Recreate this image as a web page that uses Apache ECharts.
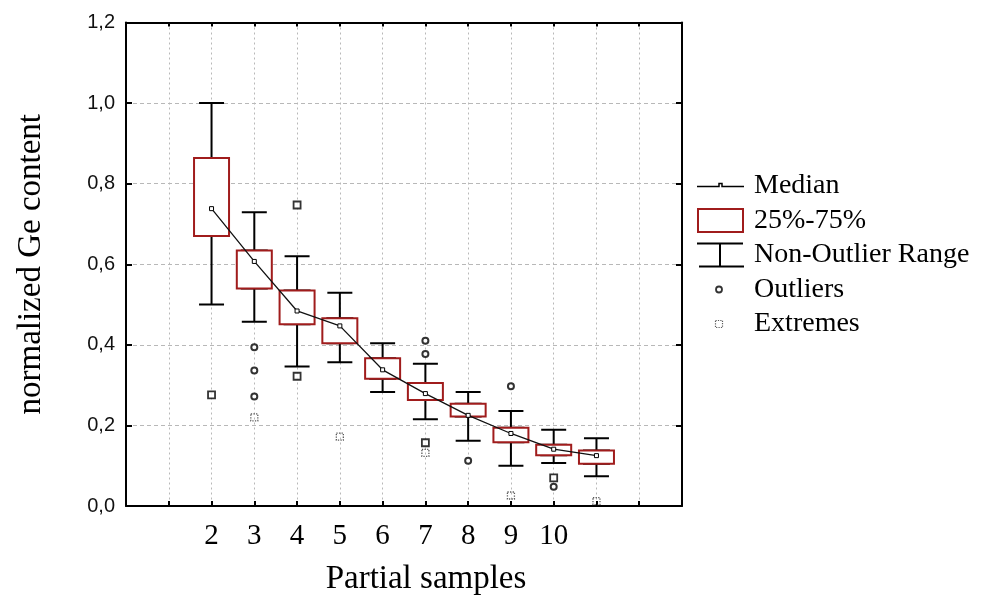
<!DOCTYPE html>
<html>
<head>
<meta charset="utf-8">
<script src="https://cdn.jsdelivr.net/npm/echarts@6/dist/echarts.min.js"></script>
<style>
html,body{margin:0;padding:0;background:#fff;}
#chart{width:983px;height:601px;}
</style>
</head>
<body>
<div id="chart"></div>
<script>
// Category slots on the x axis (index 0..13); labels only for partial samples 2..10
var categories = ['', '', '2', '3', '4', '5', '6', '7', '8', '9', '10', '', '', ''];
// Box positions (category index)
var boxPos = [2, 3, 4, 5, 6, 7, 8, 9, 10, 11];
var nonOutlierMin = [0.500, 0.457, 0.346, 0.357, 0.283, 0.215, 0.162, 0.100, 0.107, 0.074];
var q1 = [0.670, 0.540, 0.451, 0.404, 0.316, 0.263, 0.222, 0.158, 0.126, 0.105];
var median = [0.738, 0.607, 0.484, 0.447, 0.338, 0.279, 0.225, 0.180, 0.141, 0.125];
var q3 = [0.864, 0.634, 0.535, 0.466, 0.367, 0.305, 0.254, 0.194, 0.152, 0.138];
var nonOutlierMax = [1.000, 0.729, 0.620, 0.529, 0.404, 0.353, 0.283, 0.236, 0.189, 0.168];
// Outliers (circle markers) and outliers drawn as small squares: [category index, value]
var outlierCircles = [[3, 0.394], [3, 0.336], [3, 0.272], [7, 0.410], [7, 0.377], [8, 0.112], [9, 0.297], [10, 0.048]];
var outlierSquares = [[2, 0.276], [4, 0.747], [4, 0.322], [7, 0.157], [10, 0.070]];
var extremes = [[3, 0.220], [5, 0.172], [7, 0.132], [9, 0.026], [11, 0.012]];
// Y axis range / tick step
var yMin = 0, yMax = 1.2, yStep = 0.2;

var RED = '#a01c1c';
var SERIF = "'Liberation Serif','Times New Roman',serif";
var SANS = "'Liberation Sans',Arial,sans-serif";
var BOX_W = 35;

var whiskerData = boxPos.map(function (p, i) {
  return [p, nonOutlierMin[i], q1[i], median[i], q3[i], nonOutlierMax[i]];
});
var boxData = boxPos.map(function (p, i) { return [p, q1[i], q3[i]]; });
var medianData = boxPos.map(function (p, i) { return [p, median[i]]; });

var chart = echarts.init(document.getElementById('chart'), null, {renderer: 'canvas'});

chart.setOption({
  animation: false,
  backgroundColor: '#fff',
  grid: {left: 126, right: 301, top: 22.5, bottom: 91, containLabel: false},
  xAxis: [{
    type: 'category',
    data: categories,
    boundaryGap: false,
    position: 'bottom',
    axisLine: {show: true, onZero: false, lineStyle: {color: '#000', width: 2}},
    axisTick: {show: true, inside: true, interval: 0, length: 5, lineStyle: {color: '#000', width: 2}},
    axisLabel: {show: true, interval: 0, margin: 16, color: '#000', fontFamily: SERIF, fontSize: 29},
    splitLine: {show: true, interval: 0, lineStyle: {color: '#b8b8b8', width: 1, type: [2, 3]}},
    name: 'Partial samples',
    nameLocation: 'middle',
    nameGap: 57,
    nameTextStyle: {color: '#000', fontFamily: SERIF, fontSize: 33, padding: [0, 0, 0, 44]}
  }, {
    type: 'category',
    data: categories,
    boundaryGap: false,
    position: 'top',
    axisLine: {show: true, onZero: false, lineStyle: {color: '#000', width: 2}},
    axisTick: {show: true, inside: true, interval: 0, length: 4, lineStyle: {color: '#000', width: 2}},
    axisLabel: {show: false},
    splitLine: {show: false}
  }],
  yAxis: [{
    type: 'value',
    min: yMin, max: yMax, interval: yStep,
    position: 'left',
    axisLine: {show: true, onZero: false, lineStyle: {color: '#000', width: 2}},
    axisTick: {show: true, inside: true, length: 6, lineStyle: {color: '#000', width: 2}},
    axisLabel: {
      margin: 11, color: '#111', fontFamily: SANS, fontSize: 20,
      formatter: function (v) { return v.toFixed(1).replace('.', ','); }
    },
    splitLine: {show: true, lineStyle: {color: '#b8b8b8', width: 1, type: [4, 3]}},
    name: 'normalized Ge content',
    nameLocation: 'middle',
    nameGap: 78,
    nameTextStyle: {color: '#000', fontFamily: SERIF, fontSize: 33}
  }, {
    type: 'value',
    min: yMin, max: yMax, interval: yStep,
    position: 'right',
    axisLine: {show: true, onZero: false, lineStyle: {color: '#000', width: 2}},
    axisTick: {show: true, inside: true, length: 6, lineStyle: {color: '#000', width: 2}},
    axisLabel: {show: false},
    splitLine: {show: false}
  }],
  legend: {
    orient: 'vertical',
    left: 696,
    top: 172,
    padding: 0,
    itemWidth: 47,
    itemHeight: 25,
    itemGap: 6.5,
    selectedMode: false,
    textStyle: {color: '#000', fontFamily: SERIF, fontSize: 28, padding: [0, 0, 0, 5]},
    data: [
      {name: 'Median', icon: 'path://M0 0 M47 25 M0 13 H22 V10 H25 V13 H47',
        itemStyle: {color: 'rgba(0,0,0,0)', borderColor: '#000', borderWidth: 1.5}},
      {name: '25%-75%', icon: 'path://M0 0 M47 25 M1 1 H46 V24 H1 Z',
        itemStyle: {color: '#fff', borderColor: RED, borderWidth: 2}},
      {name: 'Non-Outlier Range', icon: 'path://M0 0 M47 25 M0 1 H46 M23 1 V24 M2 24 H47',
        itemStyle: {color: 'rgba(0,0,0,0)', borderColor: '#000', borderWidth: 2}},
      {name: 'Outliers', icon: 'path://M0 0 M47 25 M19 12.5 A3 3 0 1 1 25 12.5 A3 3 0 1 1 19 12.5 Z',
        itemStyle: {color: '#fff', borderColor: '#000', borderWidth: 1.8}},
      {name: 'Extremes', icon: 'path://M0 0 M47 25 M18.5 9 H25.5 V16 H18.5 Z',
        itemStyle: {color: '#fff', borderColor: '#333', borderWidth: 1.2, borderType: [1.2, 1.2]}}
    ]
  },
  series: [
    {
      name: 'Non-Outlier Range',
      type: 'boxplot',
      xAxisIndex: 0, yAxisIndex: 0,
      z: 2,
      boxWidth: [25, 25],
      encode: {x: 0, y: [1, 2, 3, 4, 5]},
      itemStyle: {color: '#fff', borderColor: '#000', borderWidth: 2},
      data: whiskerData
    },
    {
      name: '25%-75%',
      type: 'custom',
      xAxisIndex: 0, yAxisIndex: 0,
      z: 3,
      encode: {x: 0, y: [1, 2]},
      renderItem: function (params, api) {
        var x = api.value(0);
        var lo = api.coord([x, api.value(1)]);
        var hi = api.coord([x, api.value(2)]);
        return {
          type: 'rect',
          shape: {x: lo[0] - BOX_W / 2, y: hi[1], width: BOX_W, height: lo[1] - hi[1]},
          style: {fill: '#fff', stroke: RED, lineWidth: 2}
        };
      },
      itemStyle: {color: '#fff', borderColor: RED, borderWidth: 2},
      data: boxData
    },
    {
      name: 'Median',
      type: 'line',
      xAxisIndex: 0, yAxisIndex: 0,
      z: 4,
      symbol: 'rect',
      symbolSize: [4, 4],
      itemStyle: {color: '#fff', borderColor: '#000', borderWidth: 1},
      lineStyle: {color: '#111', width: 1.3},
      data: medianData
    },
    {
      name: 'Outliers',
      type: 'scatter',
      xAxisIndex: 0, yAxisIndex: 0,
      z: 5,
      symbol: 'circle',
      symbolSize: 6,
      itemStyle: {color: '#fff', borderColor: '#000', borderWidth: 2},
      data: outlierCircles
    },
    {
      name: 'Outliers',
      type: 'scatter',
      xAxisIndex: 0, yAxisIndex: 0,
      z: 5,
      symbol: 'rect',
      symbolSize: 7,
      itemStyle: {color: '#fff', borderColor: '#000', borderWidth: 1.8},
      data: outlierSquares
    },
    {
      name: 'Extremes',
      type: 'scatter',
      xAxisIndex: 0, yAxisIndex: 0,
      z: 5,
      symbol: 'rect',
      symbolSize: 7,
      itemStyle: {color: 'rgba(255,255,255,0)', borderColor: '#333', borderWidth: 1.3, borderType: [1.3, 1.3]},
      data: extremes
    }
  ]
});
</script>
</body>
</html>
